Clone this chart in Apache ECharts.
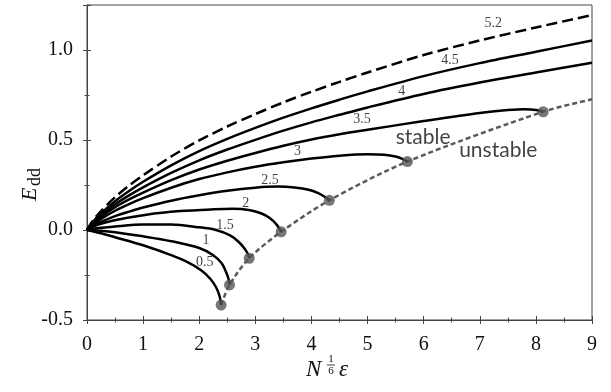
<!DOCTYPE html>
<html><head><meta charset="utf-8">
<script src="https://cdn.jsdelivr.net/npm/echarts@6/dist/echarts.min.js"></script>
<style>html,body{margin:0;padding:0;background:#fff}#c{width:611px;height:392px}</style>
</head><body><div id="c"></div>
<script>
// ---- data ----
const curveNames = ['0.5','1','1.5','2','2.5','3','3.5','4','4.5','5.2'];
const c05 = [[0,0],[0.25,-0.018],[0.5,-0.04],[1.0,-0.085],[1.5,-0.14],[1.8,-0.18],[2.04,-0.225],[2.2,-0.272],[2.3,-0.318],[2.36,-0.365],[2.39,-0.417]];
const c10 = [[0,0],[0.25,-0.004],[0.5,-0.012],[1.0,-0.035],[1.5,-0.062],[2.0,-0.10],[2.25,-0.14],[2.4,-0.185],[2.48,-0.235],[2.525,-0.275],[2.54,-0.305]];
const c15 = [[0,0],[0.25,0.012],[0.5,0.02],[1.0,0.03],[1.5,0.03],[2.0,0.015],[2.3,0.0],[2.55,-0.03],[2.7,-0.065],[2.8,-0.10],[2.87,-0.135],[2.89,-0.157]];
const c20 = [[0,0],[0.2,0.03],[0.47,0.053],[1.06,0.085],[1.66,0.105],[2.25,0.115],[2.6,0.118],[2.91,0.11],[3.1,0.093],[3.25,0.068],[3.38,0.03],[3.46,-0.01]];
const c25 = [[0,0],[0.1,0.022],[0.25,0.045],[0.5,0.077],[0.75,0.102],[1,0.125],[1.5,0.163],[2,0.193],[2.5,0.218],[3,0.235],[3.4,0.241],[3.7,0.236],[3.95,0.224],[4.12,0.205],[4.25,0.182],[4.32,0.165]];
const c30 = [[0,0],[0.1,0.03],[0.25,0.062],[0.5,0.107],[0.75,0.144],[1,0.177],[1.5,0.235],[2,0.283],[2.5,0.32],[3,0.351],[3.5,0.376],[4,0.397],[4.5,0.413],[5,0.421],[5.3,0.418],[5.5,0.408],[5.63,0.394],[5.71,0.38]];
const c35 = [[0,0],[0.1,0.035],[0.25,0.0735],[0.5,0.1265],[0.75,0.17],[1,0.208],[1.5,0.277],[2,0.336],[2.5,0.385],[3,0.428],[3.5,0.468],[4,0.503],[4.5,0.532],[5,0.557],[6,0.605],[7,0.65],[7.5,0.666],[7.8,0.671],[8.0,0.667],[8.13,0.657]];
const c40 = [[0,0],[0.1,0.039],[0.25,0.082],[0.5,0.142],[0.75,0.192],[1,0.237],[1.5,0.317],[2,0.387],[2.5,0.447],[3,0.501],[3.5,0.552],[4,0.598],[4.5,0.64],[5,0.681],[6,0.756],[7,0.819],[8,0.875],[9,0.929]];
const c45 = [[0,0],[0.1,0.044],[0.25,0.092],[0.5,0.16],[0.75,0.217],[1,0.268],[1.5,0.359],[2,0.438],[2.5,0.506],[3,0.567],[3.5,0.624],[4,0.676],[4.5,0.724],[5,0.77],[6,0.855],[7,0.927],[8,0.99],[9,1.053]];
const c52 = [[0,0],[0.1,0.05],[0.25,0.105],[0.5,0.182],[0.75,0.247],[1,0.304],[1.5,0.408],[2,0.498],[2.5,0.575],[3,0.644],[3.5,0.709],[4,0.768],[4.5,0.823],[5,0.875],[6,0.972],[7,1.053],[8,1.125],[9,1.194]];
const unstableLine = [[2.39,-0.417],[2.54,-0.305],[2.89,-0.157],[3.46,-0.01],[4.32,0.165],[5.71,0.38],[8.13,0.657],[9,0.726]];
const turningPoints = [[2.39,-0.417],[2.54,-0.305],[2.89,-0.157],[3.46,-0.01],[4.32,0.165],[5.71,0.38],[8.13,0.657]];
const xTickValues = [0,1,2,3,4,5,6,7,8,9];
const yTickLabels = ['-0.5','0.0','0.5','1.0'];
// annotation anchors (data coordinates)
const curveLabelAnchors = [[2.10,-0.178],[2.12,-0.056],[2.46,0.028],[2.83,0.148],[3.26,0.278],[3.75,0.435],[4.90,0.617],[5.61,0.768],[6.47,0.944],[7.24,1.15]];
const regionLabels = [[5.99,0.517,'stable'],[7.33,0.444,'unstable']];

const curves = [c05,c10,c15,c20,c25,c30,c35,c40,c45,c52];
const serif = 'Liberation Serif';
const axisCol = '#444';

function xAx(interval, inside, len, main){
  return {type:'value', min:0, max:9, interval:interval, position:'bottom',
    axisLine:{show:!!main, onZero:false, lineStyle:{color:axisCol,width:1}},
    axisTick:{show:true, inside:inside, length:len, lineStyle:{color:axisCol,width:1}},
    axisLabel:{show:!!main, margin:15, fontFamily:serif, fontSize:20, color:'#111',
      formatter:v=> xTickValues.includes(v) ? String(v) : ''},
    splitLine:{show:false}};
}
function yAx(interval, inside, len, main){
  return {type:'value', min:-0.5, max:1.25, interval:interval, position:'left',
    axisLine:{show:!!main, onZero:false, lineStyle:{color:axisCol,width:1}},
    axisTick:{show:true, inside:inside, length:len, lineStyle:{color:axisCol,width:1}},
    axisLabel:{show:!!main, margin:14, fontFamily:serif, fontSize:20, color:'#111',
      formatter:v=>{ const s=v.toFixed(1); return (Math.abs(v*2-Math.round(v*2))<1e-6 && yTickLabels.includes(s)) ? s : ''; }},
    splitLine:{show:false}};
}

const series = [];
curves.forEach((d,i)=>{
  series.push({type:'line', name:curveNames[i], data:d, showSymbol:false, symbol:'none',
    smooth:0.3, silent:true, z:3,
    lineStyle:{color:'#000', width:2.5, type: curveNames[i]==='5.2' ? [11,5] : 'solid'}});
});
series.push({type:'line', name:'unstable', data:unstableLine, showSymbol:false, symbol:'none',
  smooth:0.3, silent:true, z:2, lineStyle:{color:'#5a5a5a', width:2.5, type:[5,3]}});
series.push({type:'scatter', data:turningPoints, symbolSize:11, silent:true, z:5,
  itemStyle:{color:'#555'}});
series.push({type:'scatter', data:curveLabelAnchors.map((p,i)=>[p[0],p[1],curveNames[i]]),
  symbolSize:0, silent:true, z:6,
  label:{show:true, position:'inside', formatter:p=>p.data[2], fontFamily:serif, fontSize:14, color:'#111'}});
series.push({type:'scatter', data:regionLabels, symbolSize:0, silent:true, z:6,
  label:{show:true, position:'inside', formatter:p=>p.data[2], fontFamily:'Lato', fontSize:21, color:'#111'}});

const chart = echarts.init(document.getElementById('c'), null, {renderer:'canvas'});
chart.setOption({
  animation:false,
  backgroundColor:'#fff',
  grid:{left:87, right:19, top:5, bottom:72, show:true, borderColor:axisCol, borderWidth:1, backgroundColor:'transparent'},
  xAxis:[xAx(1,false,4,true), xAx(1,true,4,false), xAx(0.5,false,2.5,false), xAx(0.5,true,2.5,false)],
  yAxis:[yAx(0.5,false,4,true), yAx(0.5,true,4,false), yAx(0.25,false,2.5,false), yAx(0.25,true,2.5,false)],
  series:series,
  graphic:[
    {type:'group', x:37, y:201, rotation:Math.PI/2, children:[
      {type:'text', x:0, y:-7, style:{text:'E', fontFamily:serif, fontStyle:'italic', fontSize:22, fill:'#111', textAlign:'left', textVerticalAlign:'middle'}},
      {type:'text', x:15, y:-2, style:{text:'dd', fontFamily:serif, fontSize:18, fill:'#111', textAlign:'left', textVerticalAlign:'middle'}}
    ]},
    {type:'text', x:306, y:370, style:{text:'N', fontFamily:serif, fontStyle:'italic', fontSize:23, fill:'#111', textAlign:'left', textVerticalAlign:'middle'}},
    {type:'text', x:331, y:359, style:{text:'1', fontFamily:serif, fontSize:11, fill:'#111', textAlign:'center', textVerticalAlign:'middle'}},
    {type:'line', shape:{x1:327, y1:365, x2:335, y2:365}, style:{stroke:'#111', lineWidth:0.8}},
    {type:'text', x:331, y:371, style:{text:'6', fontFamily:serif, fontSize:11, fill:'#111', textAlign:'center', textVerticalAlign:'middle'}},
    {type:'text', x:339, y:370, style:{text:'ε', fontFamily:serif, fontStyle:'italic', fontSize:23, fill:'#111', textAlign:'left', textVerticalAlign:'middle'}}
  ]
});
</script></body></html>
